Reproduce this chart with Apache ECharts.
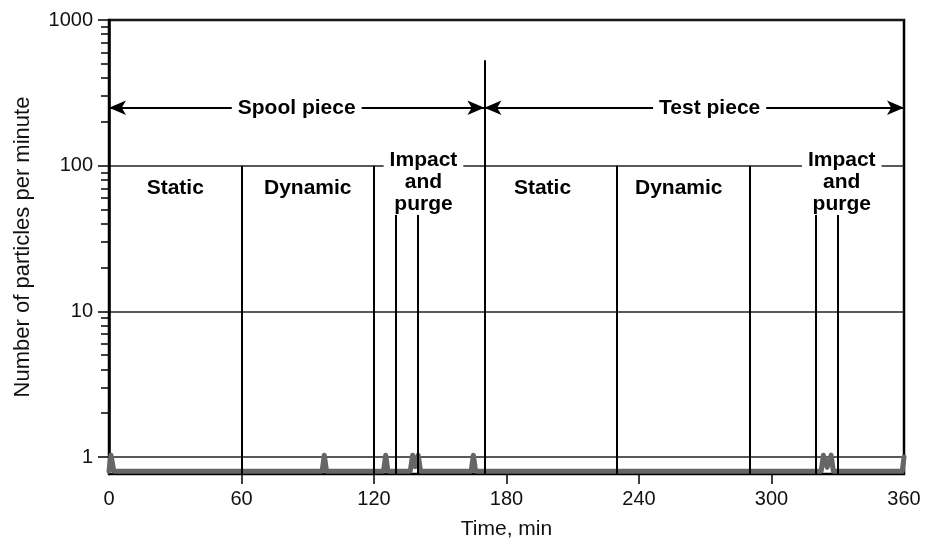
<!DOCTYPE html>
<html><head><meta charset="utf-8">
<script src="https://cdn.jsdelivr.net/npm/echarts@6/dist/echarts.min.js"></script>
<style>html,body{margin:0;padding:0;background:#fff}#c{width:940px;height:546px}</style>
</head><body><div id="c"></div>
<script>
// ---- data ----
const times  = [0, 0.9, 2.2, 96.5, 97.5, 98.5, 124.3, 125.3, 126.3, 136.4, 137.5, 138.7, 140, 141.1, 164, 165, 166, 322.5, 323.5, 325.2, 327, 328, 359.2, 360];
const counts = [0.8, 1.03, 0.8, 0.8, 1.03, 0.8, 0.8, 1.03, 0.8, 0.8, 1.03, 0.86, 1.03, 0.8, 0.8, 1.03, 0.8, 0.8, 1.03, 0.85, 1.03, 0.8, 0.8, 1.0];
const xTicks = [0, 60, 120, 180, 240, 300, 360];
const xTickMarks = [60, 120, 180, 240, 300];
const yTicks = [1, 10, 100, 1000];
const yMinorTicks = [2,3,4,5,6,7,8,9,20,30,40,50,60,70,80,90,200,300,400,500,600,700,800,900];
const phaseDividers = [60, 120, 230, 290];
const phaseTop = 100;
const impactMarks = [130, 140, 320, 330];
const impactTop = 46;
const pieceDivider = 170;
const pieceTop = 530;
const pieceSpans = [[0, 170], [170, 360]];
const arrowLevel = 250;
const labelTexts = ['Spool piece', 'Test piece', 'Static', 'Dynamic', 'Impact\nand\npurge', 'Static', 'Dynamic', 'Impact\nand\npurge'];
const labelX = [85, 272, 30, 90, 142.4, 196.3, 258, 331.8];
const labelY = [250, 250, 70, 70, 77.5, 70, 70, 77.5];
const yMin = 0.765, yMax = 1000;

const FONT = "'Liberation Sans', Arial, Helvetica, sans-serif";
const chart = echarts.init(document.getElementById('c'), null, {renderer: 'canvas'});

const vLines = [];
phaseDividers.forEach(t => vLines.push([{coord: [t, phaseTop]}, {coord: [t, yMin]}]));
impactMarks.forEach(t => vLines.push([{coord: [t, impactTop]}, {coord: [t, yMin]}]));
vLines.push([{coord: [pieceDivider, pieceTop]}, {coord: [pieceDivider, yMin]}]);

const arrows = pieceSpans.map(s => [{coord: [s[0], arrowLevel]}, {coord: [s[1], arrowLevel]}]);

const labelData = labelTexts.map((t, i) => ({value: [labelX[i], labelY[i]], label: {formatter: t}}));

chart.setOption({
  animation: false,
  backgroundColor: '#fff',
  grid: {left: 109, right: 36, top: 20, bottom: 72, show: true, borderColor: '#000', borderWidth: 2.5, backgroundColor: 'transparent'},
  xAxis: {
    type: 'value', min: 0, max: 360, interval: 60,
    axisLine: {show: false},
    axisTick: {show: true, length: 10, lineStyle: {color: '#000', width: 1.5}, customValues: xTickMarks},
    axisLabel: {color: '#111', fontSize: 20, fontFamily: FONT, margin: 15, customValues: xTicks},
    splitLine: {show: false},
    name: 'Time, min', nameLocation: 'middle', nameGap: 45,
    nameTextStyle: {color: '#111', fontSize: 21, fontFamily: FONT}
  },
  yAxis: [{
    type: 'log', logBase: 10, min: yMin, max: yMax,
    axisLine: {show: true, lineStyle: {color: '#000', width: 2.5}},
    axisTick: {show: true, length: 11, lineStyle: {color: '#000', width: 1.5}, customValues: yTicks},
    axisLabel: {color: '#111', fontSize: 20, fontFamily: FONT, margin: 16, customValues: yTicks,
      formatter: v => (yTicks.indexOf(Math.round(v)) >= 0 && Math.abs(v - Math.round(v)) < 1e-6) ? String(Math.round(v)) : ''},
    splitLine: {show: true, lineStyle: {color: '#222', width: 1.5}},
    minorTick: {show: false},
    name: 'Number of particles per minute', nameLocation: 'middle', nameGap: 75,
    nameTextStyle: {color: '#111', fontSize: 22, fontFamily: FONT}
  }, {
    type: 'log', logBase: 10, min: yMin, max: yMax, position: 'left',
    axisLine: {show: false},
    axisTick: {show: true, length: 8, lineStyle: {color: '#000', width: 1.5}, customValues: yMinorTicks},
    axisLabel: {show: false},
    splitLine: {show: false}
  }],
  series: [{
    type: 'line', name: 'particles', yAxisIndex: 0,
    data: times.map((t, i) => [t, counts[i]]),
    showSymbol: false, symbol: 'none', clip: false, z: 3,
    lineStyle: {color: '#666666', width: 5, join: 'round', cap: 'round'},
    markLine: {
      silent: true, symbol: ['none', 'none'], label: {show: false},
      lineStyle: {color: '#000', width: 2, type: 'solid'},
      emphasis: {disabled: true},
      data: vLines
    }
  }, {
    type: 'line', name: 'arrows', yAxisIndex: 0, data: [], z: 4,
    markLine: {
      silent: true, symbol: ['arrow', 'arrow'], symbolSize: [11, 17], label: {show: false},
      lineStyle: {color: '#000', width: 2, type: 'solid'},
      itemStyle: {color: '#000'},
      emphasis: {disabled: true},
      data: arrows
    }
  }, {
    type: 'scatter', name: 'labels', yAxisIndex: 0, z: 20, symbolSize: 0, silent: true,
    itemStyle: {color: '#000', opacity: 1},
    data: labelData,
    label: {show: true, position: [0, 0], color: '#000', fontSize: 21, fontWeight: 'bold', fontFamily: FONT,
      textBorderWidth: 0, textBorderColor: 'transparent', textShadowBlur: 0, opacity: 1,
      lineHeight: 22, backgroundColor: '#fff', padding: [0, 6], align: 'center', verticalAlign: 'middle'}
  }]
});
</script></body></html>
